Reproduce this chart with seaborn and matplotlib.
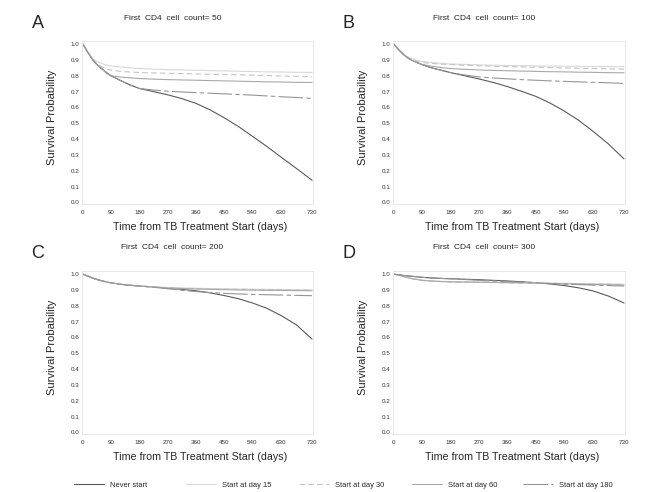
import matplotlib
matplotlib.use("Agg")
import matplotlib.pyplot as plt
import numpy as np
import pandas as pd
import seaborn as sns

days = [0, 15, 30, 45, 60, 75, 90, 120, 150, 180, 225, 270, 315, 360, 405,
        450, 495, 540, 585, 630, 680, 730]

scenarios = ["Never start", "Start at day 15", "Start at day 30",
             "Start at day 60", "Start at day 180"]
panel_letters = ["A", "B", "C", "D"]
cd4_counts = [50, 100, 200, 300]

# CD4 = 50
never_a = [1.00, 0.95, 0.905, 0.87, 0.845, 0.82, 0.80, 0.77, 0.742, 0.72, 0.70, 0.68,
           0.656, 0.626, 0.585, 0.535, 0.48, 0.418, 0.355, 0.288, 0.215, 0.14]
s15_a = [1.00, 0.95, 0.91, 0.89, 0.878, 0.868, 0.862, 0.855, 0.85, 0.846, 0.842, 0.839,
         0.837, 0.835, 0.833, 0.831, 0.829, 0.827, 0.825, 0.824, 0.822, 0.821]
s30_a = [1.00, 0.95, 0.905, 0.875, 0.857, 0.843, 0.835, 0.828, 0.824, 0.821, 0.818, 0.816,
         0.814, 0.812, 0.81, 0.808, 0.806, 0.804, 0.802, 0.799, 0.797, 0.794]
s60_a = [1.00, 0.95, 0.905, 0.87, 0.845, 0.815, 0.80, 0.792, 0.787, 0.783, 0.779, 0.776,
         0.774, 0.772, 0.77, 0.768, 0.766, 0.764, 0.762, 0.761, 0.759, 0.758]
s180_a = [1.00, 0.95, 0.905, 0.87, 0.845, 0.82, 0.80, 0.77, 0.742, 0.72, 0.71, 0.703,
          0.698, 0.694, 0.69, 0.686, 0.682, 0.678, 0.673, 0.668, 0.663, 0.657]

# CD4 = 100
never_b = [1.00, 0.965, 0.935, 0.912, 0.895, 0.882, 0.87, 0.85, 0.835, 0.82, 0.80, 0.78,
           0.758, 0.732, 0.702, 0.67, 0.628, 0.578, 0.52, 0.452, 0.37, 0.275]
s15_b = [1.00, 0.965, 0.937, 0.918, 0.905, 0.897, 0.891, 0.884, 0.879, 0.875, 0.872, 0.869,
         0.867, 0.865, 0.864, 0.863, 0.862, 0.861, 0.86, 0.859, 0.858, 0.857]
s30_b = [1.00, 0.965, 0.935, 0.914, 0.90, 0.89, 0.884, 0.878, 0.874, 0.871, 0.867, 0.864,
         0.861, 0.858, 0.856, 0.854, 0.852, 0.85, 0.848, 0.846, 0.844, 0.842]
s60_b = [1.00, 0.965, 0.935, 0.912, 0.895, 0.882, 0.872, 0.86, 0.852, 0.846, 0.841, 0.837,
         0.834, 0.832, 0.83, 0.828, 0.826, 0.825, 0.823, 0.822, 0.82, 0.819]
s180_b = [1.00, 0.965, 0.935, 0.912, 0.895, 0.882, 0.87, 0.85, 0.835, 0.82, 0.805, 0.793,
          0.786, 0.781, 0.776, 0.772, 0.768, 0.765, 0.762, 0.759, 0.756, 0.752]

# CD4 = 200
never_c = [1.00, 0.988, 0.976, 0.966, 0.958, 0.951, 0.945, 0.936, 0.93, 0.925, 0.919, 0.912,
           0.904, 0.895, 0.882, 0.865, 0.845, 0.818, 0.785, 0.74, 0.68, 0.59]
s15_c = [1.00, 0.988, 0.976, 0.966, 0.958, 0.951, 0.945, 0.936, 0.93, 0.925, 0.92, 0.916,
         0.913, 0.911, 0.909, 0.908, 0.906, 0.905, 0.904, 0.903, 0.902, 0.901]
s30_c = [1.00, 0.988, 0.976, 0.966, 0.958, 0.951, 0.945, 0.936, 0.93, 0.925, 0.919, 0.914,
         0.911, 0.909, 0.907, 0.905, 0.904, 0.903, 0.902, 0.901, 0.90, 0.899]
s60_c = [1.00, 0.988, 0.976, 0.966, 0.958, 0.951, 0.945, 0.936, 0.93, 0.925, 0.919, 0.913,
         0.909, 0.906, 0.904, 0.902, 0.90, 0.899, 0.898, 0.897, 0.896, 0.895]
s180_c = [1.00, 0.988, 0.976, 0.966, 0.958, 0.951, 0.945, 0.936, 0.93, 0.925, 0.917, 0.908,
          0.898, 0.89, 0.884, 0.879, 0.875, 0.872, 0.87, 0.868, 0.866, 0.864]

# CD4 = 300
never_d = [1.00, 0.996, 0.992, 0.989, 0.986, 0.983, 0.98, 0.976, 0.973, 0.971, 0.968, 0.965,
           0.961, 0.957, 0.952, 0.946, 0.938, 0.928, 0.914, 0.895, 0.862, 0.818]
s15_d = [1.00, 0.993, 0.985, 0.978, 0.972, 0.967, 0.963, 0.958, 0.955, 0.953, 0.951, 0.949,
         0.948, 0.947, 0.946, 0.945, 0.943, 0.942, 0.941, 0.94, 0.938, 0.937]
s30_d = [1.00, 0.993, 0.985, 0.977, 0.971, 0.965, 0.961, 0.956, 0.953, 0.951, 0.949, 0.948,
         0.947, 0.946, 0.945, 0.944, 0.942, 0.941, 0.94, 0.938, 0.937, 0.935]
s60_d = [1.00, 0.993, 0.985, 0.977, 0.97, 0.965, 0.96, 0.956, 0.953, 0.951, 0.95, 0.949,
         0.948, 0.946, 0.945, 0.943, 0.941, 0.939, 0.937, 0.935, 0.933, 0.931]
s180_d = [1.00, 0.996, 0.992, 0.989, 0.986, 0.983, 0.98, 0.976, 0.973, 0.971, 0.966, 0.961,
          0.957, 0.953, 0.949, 0.945, 0.941, 0.937, 0.934, 0.931, 0.928, 0.925]

panels = [
    [never_a, s15_a, s30_a, s60_a, s180_a],
    [never_b, s15_b, s30_b, s60_b, s180_b],
    [never_c, s15_c, s30_c, s60_c, s180_c],
    [never_d, s15_d, s30_d, s60_d, s180_d],
]

palette = dict(zip(scenarios, ["#5a5a5a", "#d8d8d8", "#c4c4c4", "#a8a8a8", "#959595"]))
dashes = dict(zip(scenarios, ["", "", (5, 3), "", (22, 3, 4, 3)]))

sns.set_style("white")
plt.rcParams["font.family"] = ["Liberation Sans", "DejaVu Sans"]

fig = plt.figure(figsize=(6.56, 4.92), dpi=100)
W, H = 656, 492

# axes boxes in pixels: left, top, right, bottom
boxes = [(82, 41, 313, 204), (393, 41, 625, 204),
         (82, 271, 313, 434), (393, 271, 625, 434)]

handles = None
for k, (series, box) in enumerate(zip(panels, boxes)):
    l, t, r, b = box
    ax = fig.add_axes([l / W, 1 - b / H, (r - l) / W, (b - t) / H])
    rows = []
    for name, vals in zip(scenarios, series):
        for d, v in zip(days, vals):
            rows.append([d, v, name])
    df = pd.DataFrame(rows, columns=["day", "surv", "scenario"])
    sns.lineplot(data=df, x="day", y="surv", hue="scenario", style="scenario",
                 palette=palette, dashes=dashes, linewidth=0.8, ax=ax,
                 legend=(k == 0))
    if k == 0:
        handles, labels = ax.get_legend_handles_labels()
        ax.get_legend().remove()

    ax.set_xlim(-3, 733)
    ax.set_ylim(-0.01, 1.02)
    ax.set_xticks([0, 90, 180, 270, 360, 450, 540, 630, 730])
    ax.set_yticks(np.arange(0, 1.01, 0.1))
    ax.set_yticklabels([f"{v:.1f}" for v in np.arange(0, 1.01, 0.1)])
    ax.tick_params(labelsize=4.5, length=2, width=0.4, color="#cccccc", pad=2,
                   labelcolor="#333333")
    ax.tick_params(axis="y", length=0)
    for sp in ax.spines.values():
        sp.set_color("#e4e4e4")
        sp.set_linewidth(0.6)
    ax.set_xlabel("")
    ax.set_ylabel("")

    cx = (l + r) / 2
    cy = (t + b) / 2
    fig.text((l - 30) / W, 1 - (cy - 5) / H, "Survival Probability", rotation=90,
             ha="center", va="center", fontsize=8)
    fig.text((cx + 3) / W, 1 - (b + 23) / H, "Time from TB Treatment Start (days)",
             ha="center", va="center", fontsize=7.7)
    fig.text((cx - 25) / W, 1 - (t - 23) / H, f"First  CD4  cell  count= {cd4_counts[k]}",
             ha="center", va="center", fontsize=6)
    fig.text((l - 44) / W, 1 - (t - 18) / H, panel_letters[k],
             ha="center", va="center", fontsize=13)

# one legend entry per fixed slot along the bottom
legend_x = [74, 186, 299, 412, 523]
for h, lab, x in zip(handles, labels, legend_x):
    fig.legend([h], [lab], loc="center left", bbox_to_anchor=(x / W, 1 - 485 / H),
               frameon=False, fontsize=5.4, handlelength=4, handletextpad=0.8,
               borderpad=0, borderaxespad=0)

fig.savefig("out.png", dpi=100)
